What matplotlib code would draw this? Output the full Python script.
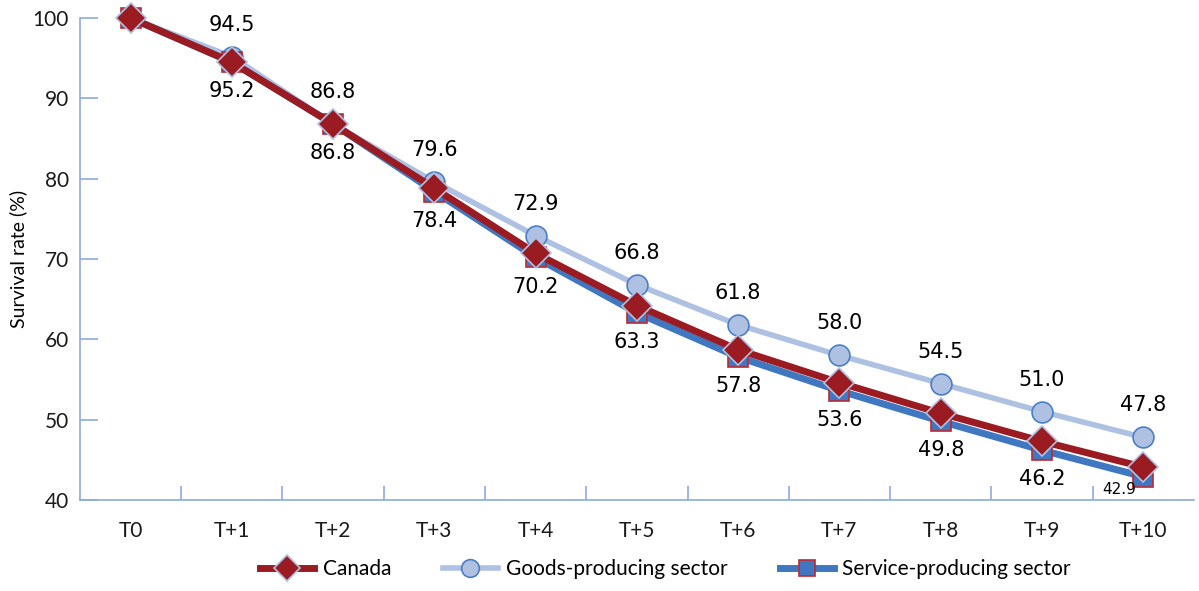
import numpy as np
import matplotlib.pyplot as plt

periods = ["T0", "T+1", "T+2", "T+3", "T+4", "T+5", "T+6", "T+7", "T+8", "T+9", "T+10"]
canada = [100, 94.5, 86.8, 78.8, 70.7, 64.2, 58.7, 54.6, 50.8, 47.3, 44.1]
goods = [100, 95.2, 86.8, 79.6, 72.9, 66.8, 61.8, 58.0, 54.5, 51.0, 47.8]
service = [100, 94.5, 86.8, 78.4, 70.2, 63.3, 57.8, 53.6, 49.8, 46.2, 42.9]
# labels as printed on the chart (T+1 pair is swapped in the original)
goods_labels = ["", "94.5", "86.8", "79.6", "72.9", "66.8", "61.8", "58.0", "54.5", "51.0", "47.8"]
service_labels = ["", "95.2", "86.8", "78.4", "70.2", "63.3", "57.8", "53.6", "49.8", "46.2", "42.9"]

axis_col = "#8FAADC"
red = "#9B1B22"
light = "#AFC1E3"
blue = "#3F77C0"

fig = plt.figure(figsize=(11.99, 5.91), dpi=100)
ax = fig.add_axes([0.0667, 0.154, 0.929, 0.8155])
x = np.arange(len(periods))

l2, = ax.plot(x, goods, color=light, lw=4, marker="o", ms=15, mfc=light,
              mec="#4A7FC4", mew=1.2, zorder=2, clip_on=False, label="Goods-producing sector")
l3, = ax.plot(x, service, color=blue, lw=5, marker="s", ms=14, mfc=blue,
              mec="#C0282E", mew=1.2, zorder=3, clip_on=False, label="Service-producing sector")
l1, = ax.plot(x, canada, color=red, lw=5, marker="D", ms=15, mfc=red,
              mec="#AFC1E3", mew=1.2, zorder=4, clip_on=False, label="Canada")

for i in x:
    if goods_labels[i]:
        ax.annotate(goods_labels[i], (i, goods[i]), xytext=(0, 23), textcoords="offset points",
                    ha="center", va="center", fontsize=15, family="DejaVu Sans")
    if service_labels[i]:
        if i == len(x) - 1:
            ax.annotate(service_labels[i], (i, service[i]), xytext=(-17, -9), textcoords="offset points",
                        ha="center", va="center", fontsize=11, family="DejaVu Sans")
        else:
            ax.annotate(service_labels[i], (i, service[i]), xytext=(0, -21), textcoords="offset points",
                        ha="center", va="center", fontsize=15, family="DejaVu Sans")

ax.set_xlim(-0.5, 10.5)
ax.set_ylim(40, 100)
ax.set_yticks(range(40, 101, 10))
ax.set_xticks(x)
ax.set_xticklabels(periods)
ax.set_xticks(np.arange(0.5, 10, 1), minor=True)
ax.tick_params(axis="x", which="major", length=0, pad=15, labelsize=15)
ax.tick_params(axis="x", which="minor", direction="in", length=10, color=axis_col, width=1.2)
ax.tick_params(axis="y", direction="in", length=13, color=axis_col, width=1.2, pad=8, labelsize=15)
for lab in ax.get_xticklabels() + ax.get_yticklabels():
    lab.set_family("Lato")
    lab.set_color("#1a1a1a")

for s in ["top", "right"]:
    ax.spines[s].set_visible(False)
for s in ["left", "bottom"]:
    ax.spines[s].set_color(axis_col)
    ax.spines[s].set_linewidth(1.2)

ax.set_ylabel("Survival rate (%)", fontsize=14, family="Lato", labelpad=4)

fig.legend(handles=[l1, l2, l3], loc="lower center", bbox_to_anchor=(0.555, -0.012), ncol=3,
           frameon=False, prop={"family": "Lato", "size": 15}, handlelength=2.6,
           columnspacing=2.5, handletextpad=0.4, markerscale=0.85)

fig.savefig("out.png", dpi=100)
